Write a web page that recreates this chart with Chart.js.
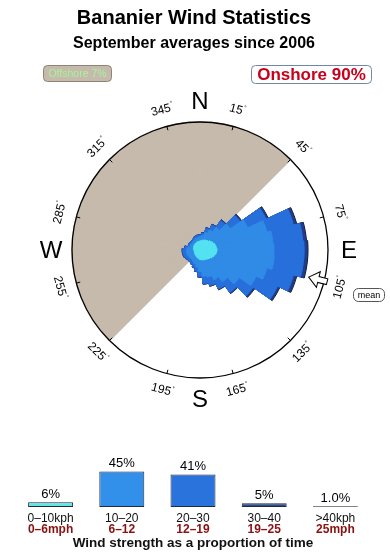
<!DOCTYPE html>
<html>
<head>
<meta charset="utf-8">
<title>Bananier Wind Statistics</title>
<script src="https://cdn.jsdelivr.net/npm/chart.js@4.4.1/dist/chart.umd.min.js"></script>
<style>
  html, body { margin: 0; padding: 0; background: #fff; }
  #wrap { position: relative; width: 390px; height: 560px; overflow: hidden; }
  #rose { position: absolute; left: 0; top: 0; }
  #speeds { position: absolute; left: 0; top: 450px; }
</style>
</head>
<body>
<div id="wrap">
  <canvas id="rose" width="390" height="450" style="width:390px;height:450px"></canvas>
  <canvas id="speeds" width="390" height="110" style="width:390px;height:110px"></canvas>
</div>
<script>
// texts
const titleText = 'Bananier Wind Statistics';
const subtitleText = 'September averages since 2006';
const offshorePct = 7;
const onshorePct = 90;

// direction bins (centre bearing, degrees) and % of time per speed band
const directions = [0, 10, 20, 30, 40, 50, 60, 70, 80, 90, 100, 110, 120, 130, 140, 150, 160, 170,
                    180, 190, 200, 210, 220, 230, 240, 250, 260, 270, 280, 290, 300, 310, 320, 330, 340, 350];
const speed0to10 = [0.09, 0.10, 0.12, 0.14, 0.16, 0.20, 0.24, 0.28, 0.30, 0.32, 0.30, 0.26, 0.22, 0.18, 0.15, 0.13, 0.12, 0.11,
                    0.10, 0.08, 0.07, 0.06, 0.05, 0.05, 0.04, 0.04, 0.04, 0.04, 0.05, 0.05, 0.06, 0.06, 0.07, 0.07, 0.08, 0.08];
const speed10to20 = [0.10, 0.13, 0.25, 0.40, 0.68, 1.30, 2.80, 5.00, 5.60, 5.70, 5.80, 5.00, 4.00, 2.35, 1.50, 1.05, 0.75, 0.65,
                     0.40, 0.25, 0.17, 0.14, 0.12, 0.12, 0.14, 0.16, 0.16, 0.16, 0.11, 0.07, 0.07, 0.06, 0.06, 0.07, 0.08, 0.09];
const speed20to30 = [0.06, 0.09, 0.19, 0.31, 0.58, 1.15, 2.80, 5.00, 5.80, 5.90, 5.80, 5.00, 3.80, 2.10, 1.30, 0.85, 0.62, 0.50,
                     0.28, 0.18, 0.13, 0.10, 0.09, 0.09, 0.11, 0.12, 0.13, 0.13, 0.10, 0.05, 0.05, 0.05, 0.04, 0.05, 0.06, 0.07];
const speed30to40 = [0.01, 0.02, 0.03, 0.04, 0.07, 0.17, 0.33, 0.60, 0.70, 0.72, 0.72, 0.62, 0.42, 0.25, 0.14, 0.08, 0.06, 0.04,
                     0.03, 0.02, 0.02, 0.01, 0.01, 0.01, 0.01, 0.02, 0.02, 0.02, 0.01, 0, 0, 0, 0, 0, 0.01, 0.01];
const speedOver40 = [0, 0, 0, 0, 0.01, 0.02, 0.06, 0.14, 0.16, 0.18, 0.18, 0.15, 0.10, 0.05, 0.02, 0.01, 0, 0,
                     0, 0, 0, 0, 0, 0, 0, 0, 0, 0, 0, 0, 0, 0, 0, 0, 0, 0];
const roseMaxPct = 18;          // % of time at the outer circle
const offshoreFrom = 225;       // offshore sector, clockwise from..to
const offshoreTo = 45;
const meanDirection = 104;
const degreeTicks = [15, 45, 75, 105, 135, 165, 195, 225, 255, 285, 315, 345];
const compassPoints = ['N', 'E', 'S', 'W'];

// speed band summary
const speedLabelsKph = ['0–10kph', '10–20', '20–30', '30–40', '>40kph'];
const speedLabelsMph = ['0–6mph', '6–12', '12–19', '19–25', '25mph'];
const speedShares = [6, 45, 41, 5, 1.0];
const shareLabels = ['6%', '45%', '41%', '5%', '1.0%'];

const FONT = "'Liberation Sans', Arial, Helvetica, sans-serif";
Chart.defaults.font.family = FONT;

const bandColors = ['#54e3f1', '#2f8be6', '#2770dc', '#1f3d8c', '#111111'];
const offshoreColor = '#c5baac';

// cumulative bands, radius proportional to sqrt(% of time) so areas match
const bands = [speed0to10, speed10to20, speed20to30, speed30to40, speedOver40];
const cumulative = bands.map((_, k) => directions.map((d, i) =>
    Math.sqrt(bands.slice(0, k + 1).reduce((s, arr) => s + arr[i], 0))));
const offshoreSpan = (offshoreTo - offshoreFrom + 360) % 360;
const offshoreData = directions.map(d =>
    ((d - offshoreFrom + 360) % 360) < offshoreSpan ? Math.sqrt(roseMaxPct) : 0);

function roundRect(ctx, x, y, w, h, r) {
    ctx.beginPath();
    ctx.moveTo(x + r, y);
    ctx.arcTo(x + w, y, x + w, y + h, r);
    ctx.arcTo(x + w, y + h, x, y + h, r);
    ctx.arcTo(x, y + h, x, y, r);
    ctx.arcTo(x, y, x + w, y, r);
    ctx.closePath();
}

const roseDecor = {
    id: 'roseDecor',
    afterDraw(chart) {
        const ctx = chart.ctx;
        const sc = chart.scales.r;
        const cx = sc.xCenter, cy = sc.yCenter, R = sc.drawingArea;
        ctx.save();

        // titles
        ctx.fillStyle = '#000';
        ctx.textAlign = 'center';
        ctx.textBaseline = 'alphabetic';
        ctx.font = 'bold 20px ' + FONT;
        ctx.fillText(titleText, 194, 24);
        ctx.font = 'bold 16px ' + FONT;
        ctx.fillText(subtitleText, 194, 47.5);

        // offshore / onshore badges
        roundRect(ctx, 43.5, 65.5, 68, 16, 4);
        ctx.fillStyle = offshoreColor;
        ctx.fill();
        ctx.strokeStyle = '#8d8478';
        ctx.lineWidth = 1;
        ctx.stroke();
        ctx.fillStyle = '#a8f29c';
        ctx.font = '10.5px ' + FONT;
        ctx.textBaseline = 'middle';
        ctx.fillText('Offshore ' + offshorePct + '%', 77.5, 74);

        roundRect(ctx, 251.5, 65.5, 120, 18, 4);
        ctx.fillStyle = '#fff';
        ctx.fill();
        ctx.strokeStyle = '#6f88a8';
        ctx.stroke();
        ctx.fillStyle = '#c8001c';
        ctx.font = 'bold 17px ' + FONT;
        ctx.fillText('Onshore ' + onshorePct + '%', 311.5, 75);

        // degree ticks and labels
        ctx.strokeStyle = '#000';
        ctx.lineWidth = 1;
        degreeTicks.forEach(deg => {
            const a = deg * Math.PI / 180;
            const sx = Math.sin(a), sy = -Math.cos(a);
            ctx.beginPath();
            ctx.moveTo(cx + sx * R, cy + sy * R);
            ctx.lineTo(cx + sx * (R - 4), cy + sy * (R - 4));
            ctx.stroke();

            ctx.save();
            ctx.translate(cx + sx * (R + 17), cy + sy * (R + 17));
            const rot = (deg < 90 || deg > 270) ? deg : deg - 180;
            ctx.rotate(rot * Math.PI / 180);
            ctx.font = '12px ' + FONT;
            const txt = String(deg);
            const w = ctx.measureText(txt).width;
            const total = w + 3;
            ctx.textAlign = 'left';
            ctx.textBaseline = 'middle';
            ctx.fillStyle = '#000';
            ctx.fillText(txt, -total / 2, 0);
            ctx.font = '6px ' + FONT;
            ctx.fillText('°', -total / 2 + w + 0.5, -4);
            ctx.restore();
        });

        // compass letters
        ctx.font = '24px ' + FONT;
        ctx.textAlign = 'center';
        ctx.textBaseline = 'middle';
        ctx.fillStyle = '#000';
        compassPoints.forEach((p, i) => {
            const a = i * Math.PI / 2;
            const rr = R + 21;
            ctx.fillText(p, cx + Math.sin(a) * rr, cy - Math.cos(a) * rr + 1);
        });

        // mean direction arrow
        const am = meanDirection * Math.PI / 180;
        const tipR = R - 16;
        ctx.save();
        ctx.translate(cx + Math.sin(am) * tipR, cy - Math.cos(am) * tipR);
        ctx.rotate(am - Math.PI / 2);
        ctx.beginPath();
        ctx.moveTo(0, 0);
        ctx.lineTo(10, -8);
        ctx.lineTo(10, -3);
        ctx.lineTo(19, -3);
        ctx.lineTo(19, 3);
        ctx.lineTo(10, 3);
        ctx.lineTo(10, 8);
        ctx.closePath();
        ctx.fillStyle = '#fff';
        ctx.fill();
        ctx.strokeStyle = '#000';
        ctx.lineWidth = 1;
        ctx.stroke();
        ctx.restore();

        roundRect(ctx, 353.5, 288.5, 31, 13, 5);
        ctx.fillStyle = '#fff';
        ctx.fill();
        ctx.strokeStyle = '#555';
        ctx.stroke();
        ctx.fillStyle = '#000';
        ctx.font = '9px ' + FONT;
        ctx.fillText('mean', 369, 295.5);

        ctx.restore();
    }
};

const roseDatasets = cumulative.map((vals, k) => ({
    label: 'band' + k,
    data: vals,
    backgroundColor: bandColors[k],
    borderColor: bandColors[k],
    borderWidth: 1
}));
roseDatasets.push({
    label: 'offshore',
    data: offshoreData,
    backgroundColor: offshoreColor,
    borderColor: offshoreColor,
    borderWidth: 1.5
});

new Chart(document.getElementById('rose'), {
    type: 'polarArea',
    data: { labels: directions.map(d => d + '°'), datasets: roseDatasets },
    options: {
        responsive: false,
        animation: false,
        events: [],
        layout: { padding: { left: 72, right: 62, top: 122, bottom: 72 } },
        plugins: { legend: { display: false }, tooltip: { enabled: false } },
        scales: {
            r: {
                min: 0,
                max: Math.sqrt(roseMaxPct),
                startAngle: -5,
                ticks: { display: false },
                pointLabels: { display: false },
                angleLines: { display: false },
                grid: { z: 1, color: '#000', lineWidth: 1.3, circular: true },
                afterBuildTicks: s => { s.ticks = [{ value: 0 }, { value: s.max }]; }
            }
        }
    },
    plugins: [roseDecor]
});

const speedDecor = {
    id: 'speedDecor',
    afterDatasetsDraw(chart) {
        const ctx = chart.ctx;
        const xs = chart.scales.x;
        const meta = chart.getDatasetMeta(0);
        ctx.save();
        ctx.textAlign = 'center';
        ctx.textBaseline = 'middle';
        meta.data.forEach((bar, i) => {
            ctx.fillStyle = '#000';
            ctx.font = '13px ' + FONT;
            ctx.fillText(shareLabels[i], bar.x, bar.y - 8);
            ctx.fillStyle = '#8b1010';
            ctx.font = 'bold 12px ' + FONT;
            ctx.fillText(speedLabelsMph[i], xs.getPixelForTick(i), xs.top + 23);
        });
        ctx.restore();
    }
};

new Chart(document.getElementById('speeds'), {
    type: 'bar',
    data: {
        labels: speedLabelsKph,
        datasets: [{
            data: speedShares,
            backgroundColor: ['#64e6e8', '#3390ea', '#2a72dc', '#2c4a88', '#111111'],
            borderColor: '#1f2a3a',
            borderWidth: 1,
            borderSkipped: false,
            barPercentage: 0.632,
            categoryPercentage: 1
        }]
    },
    options: {
        responsive: false,
        animation: false,
        events: [],
        layout: { padding: { left: 15, right: 19, top: 0, bottom: 0 } },
        plugins: { legend: { display: false }, tooltip: { enabled: false } },
        scales: {
            y: { display: false, min: 0, max: 72 },
            x: {
                grid: { display: false, drawTicks: false },
                border: { display: false },
                ticks: { color: '#111', font: { size: 12 }, padding: 4.8, maxRotation: 0, autoSkip: false },
                title: {
                    display: true,
                    text: 'Wind strength as a proportion of time',
                    color: '#111',
                    font: { size: 13.5, weight: 'bold' },
                    padding: { top: 3.7, bottom: 9 }
                }
            }
        }
    },
    plugins: [speedDecor]
});
</script>
</body>
</html>
